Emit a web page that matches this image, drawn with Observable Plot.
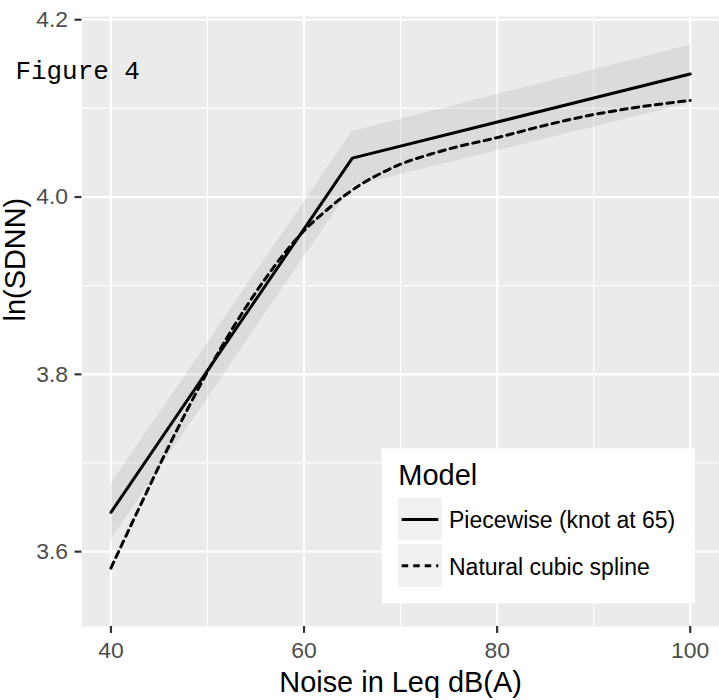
<!DOCTYPE html>
<html>
<head>
<meta charset="utf-8">
<script src="https://cdn.jsdelivr.net/npm/d3@7"></script>
<script src="https://cdn.jsdelivr.net/npm/@observablehq/plot@0.6"></script>
<style>
  html, body { margin: 0; padding: 0; background: #fff; overflow: hidden; }
  #wrap { position: relative; width: 719px; height: 700px; overflow: hidden; }
  #legend { position: absolute; left: 0; top: 0; pointer-events: none; }
</style>
</head>
<body>
<div id="wrap"></div>
<script>
// ---- data ----
const knotX = [40, 65, 100];
const piecewiseY = [3.6443, 4.0439, 4.1387];
const bandLow = [3.613, 4.012, 4.1057];
const bandHigh = [3.676, 4.0738, 4.1713];

const splineX = [40, 42, 44, 46, 48, 50, 52, 54, 56, 58, 60, 62, 64, 66, 68, 70, 73, 76, 80, 85, 90, 95, 100];
const splineY = [3.5815, 3.628, 3.674, 3.719, 3.762, 3.803, 3.841, 3.876, 3.908, 3.937, 3.962, 3.982, 4.000, 4.015, 4.027, 4.037, 4.048, 4.057, 4.067, 4.081, 4.093, 4.102, 4.109];

const xTicks = [40, 60, 80, 100];
const xMinor = [50, 70, 90];
const yTicks = [3.6, 3.8, 4.0, 4.2];
const yMinor = [3.7, 3.9, 4.1];

const seriesNames = ["Piecewise (knot at 65)", "Natural cubic spline"];
const legendTitle = "Model";
const xTitle = "Noise in Leq dB(A)";
const yTitle = "ln(SDNN)";
const figLabel = "Figure 4";

// ---- tables ----
const band = knotX.map((x, i) => ({x, lo: bandLow[i], hi: bandHigh[i]}));
const piece = knotX.map((x, i) => ({x, y: piecewiseY[i]}));
const spline = splineX.map((x, i) => ({x, y: splineY[i]}));

const chart = Plot.plot({
  width: 721,
  height: 700,
  marginLeft: 81.7,
  marginRight: 0.3,
  marginTop: 16,
  marginBottom: 72.3,
  style: {fontFamily: "'Liberation Sans', Arial, sans-serif", background: "white", overflow: "visible"},
  x: {domain: [37, 103]},
  y: {domain: [3.5156, 4.2037]},
  marks: [
    Plot.frame({fill: "#EBEBEB", stroke: "none"}),
    Plot.ruleX(xMinor, {stroke: "white", strokeWidth: 1.1}),
    Plot.ruleY(yMinor, {stroke: "white", strokeWidth: 1.1}),
    Plot.ruleX(xTicks, {stroke: "white", strokeWidth: 2.2}),
    Plot.ruleY(yTicks, {stroke: "white", strokeWidth: 2.2}),
    Plot.areaY(band, {x: "x", y1: "lo", y2: "hi", fill: "#999999", fillOpacity: 0.2}),
    Plot.line(piece, {x: "x", y: "y", stroke: "black", strokeWidth: 3}),
    Plot.line(spline, {x: "x", y: "y", stroke: "black", strokeWidth: 3, strokeDasharray: "6.5,5.2", curve: "monotone-x"}),
    Plot.axisX({ticks: xTicks, tickSize: 7, tickPadding: 8, fontSize: 23, fill: "#4D4D4D", stroke: "#333333", strokeWidth: 2.2, label: null}),
    Plot.axisY({ticks: yTicks, tickFormat: d3.format(".1f"), tickSize: 7, tickPadding: 7, fontSize: 23, fill: "#4D4D4D", stroke: "#333333", strokeWidth: 2.2, label: null}),
    Plot.text([xTitle], {frameAnchor: "bottom", dy: 56, lineAnchor: "middle", fontSize: 29, fill: "black", text: d => d}),
    Plot.text([yTitle], {frameAnchor: "left", dx: -66, rotate: -90, lineAnchor: "middle", fontSize: 29, fill: "black", text: d => d}),
    Plot.text([figLabel], {frameAnchor: "top-left", dx: -66.7, dy: 54, textAnchor: "start", lineAnchor: "middle", fontSize: 26, fontFamily: "'Liberation Mono', 'DejaVu Sans Mono', monospace", fill: "black", text: d => d})
  ]
});
document.getElementById("wrap").appendChild(chart);

// ---- legend overlay (inside panel) ----
const lg = d3.select("#wrap").append("svg")
  .attr("id", "legend").attr("width", 719).attr("height", 700)
  .style("font-family", "'Liberation Sans', Arial, sans-serif");
const L = {x: 381.7, y: 448.3, w: 313.3, h: 155};
lg.append("rect").attr("x", L.x).attr("y", L.y).attr("width", L.w).attr("height", L.h).attr("fill", "white");
lg.append("text").attr("x", 398.3).attr("y", 485).attr("font-size", 29).attr("fill", "black").text(legendTitle);
const keyTop = [497.7, 544];
const keyH = 42.5;
seriesNames.forEach((name, i) => {
  lg.append("rect").attr("x", 398.3).attr("y", keyTop[i]).attr("width", 43.3).attr("height", keyH).attr("fill", "#F0F0F0");
  const cy = keyTop[i] + keyH / 2 + 0.5;
  lg.append("line").attr("x1", 401.7).attr("x2", 438.3).attr("y1", cy).attr("y2", cy)
    .attr("stroke", "black").attr("stroke-width", 3)
    .attr("stroke-dasharray", i === 1 ? "6.5,5" : null);
  lg.append("text").attr("x", 449).attr("y", keyTop[i] + 30.5).attr("font-size", 23).attr("fill", "black").text(name);
});
</script>
</body>
</html>
